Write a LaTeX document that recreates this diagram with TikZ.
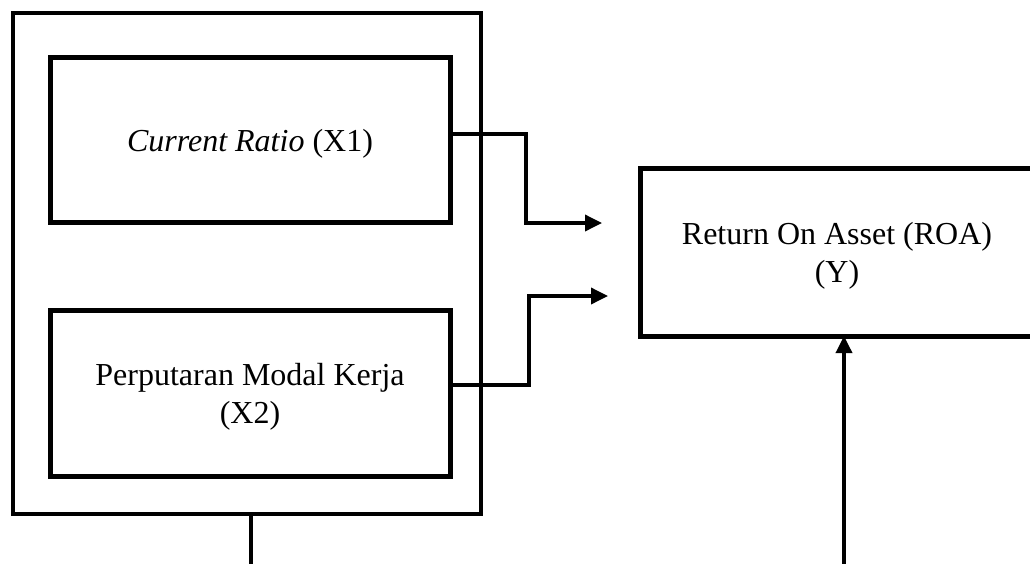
\documentclass[tikz,border=0pt]{standalone}
\usepackage{fontspec}
\setmainfont{Liberation Serif}
\usetikzlibrary{arrows.meta,calc}

\tikzset{
  boxtext/.style={font=\fontsize{32}{38}\selectfont, align=center, inner sep=0pt},
  inbox/.style={draw, line width=5pt, rectangle, outer sep=0pt, inner sep=0pt},
  groupbox/.style={draw, line width=3.5pt, rectangle, outer sep=0pt, inner sep=0pt},
  link/.style={line width=3.5pt},
  flow/.style={link, -{Triangle[length=17pt,width=16pt]}}
}

\begin{document}
\begin{tikzpicture}[x=1pt, y=-1pt]
  \useasboundingbox (0,0) rectangle (1030,563);

  % group frame around the two independent variables
  \node[groupbox, minimum width=468pt, minimum height=501pt] (outer) at (247,263.5) {};

  % independent variables
  \node[inbox, minimum width=400pt, minimum height=165pt] (x1) at (250,139.5) {};
  \node[boxtext] (x1t) at ([yshift=-4pt]x1.center) {\textit{Current Ratio} (X1)};
  \node[inbox, minimum width=400pt, minimum height=166pt] (x2) at (250,393) {};
  \node[boxtext] (x2t) at ([yshift=-4pt]x2.center) {Perputaran Modal Kerja\\(X2)};

  % dependent variable
  \node[inbox, minimum width=394pt, minimum height=168pt] (y) at (837,252) {};
  \node[boxtext] (yt) at ([yshift=-4pt]y.center) {Return On Asset (ROA)\\(Y)};

  % partial effects
  \coordinate (t1) at (602,223);
  \coordinate (t2) at (608,296);
  \draw[flow] ([yshift=5.5pt]x1.east) -| ($(t1)+(-76,0)$) -- (t1);
  \draw[flow] ([yshift=8pt]x2.east) -| ($(t2)+(-79,0)$) -- (t2);

  % simultaneous effect
  \coordinate (s1) at (251,570);
  \coordinate (s2) at (844,570);
  \draw[link] ([xshift=4pt]outer.south) -- (s1);
  \draw[flow] (s2) -- ([xshift=7pt]y.south);
\end{tikzpicture}
\end{document}
